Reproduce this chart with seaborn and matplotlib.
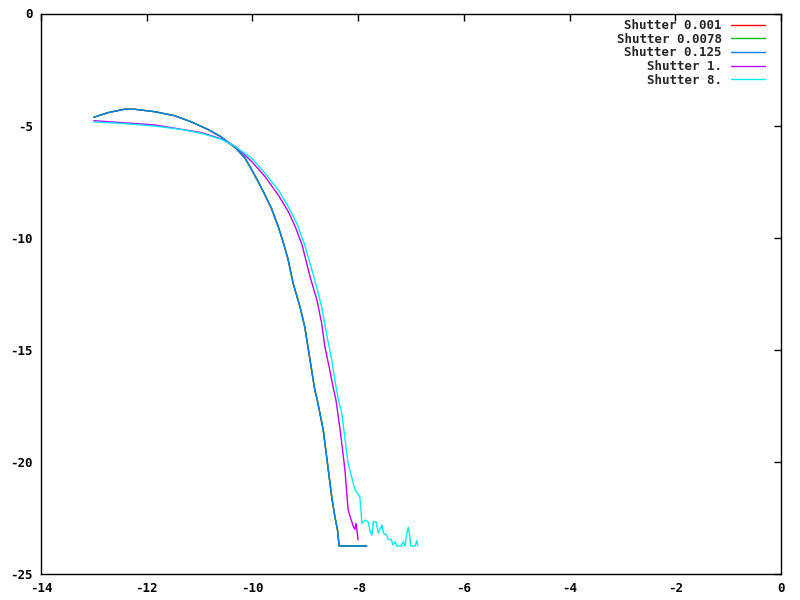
import numpy as np
import pandas as pd
import matplotlib
matplotlib.use("Agg")
import matplotlib.pyplot as plt
import seaborn as sns

# ---- data ----
labels = ["Shutter 0.001", "Shutter 0.0078", "Shutter 0.125", "Shutter 1.", "Shutter 8."]
colors = ["#ff0000", "#00c000", "#0080ff", "#c000ff", "#00eeee"]

fast_x = [-13.00, -12.73, -12.42, -12.23, -11.85, -11.47, -11.16, -10.84, -10.59, -10.31,
          -10.14, -10.01, -9.89, -9.76, -9.64, -9.51, -9.42, -9.33, -9.23, -9.10,
          -9.01, -8.94, -8.88, -8.82, -8.78, -8.66, -8.50, -8.44, -8.39, -8.36, -7.84]
red_y = [-4.63, -4.42, -4.27, -4.27, -4.38, -4.56, -4.83, -5.18, -5.51, -6.02,
         -6.46, -6.99, -7.51, -8.11, -8.70, -9.52, -10.19, -10.93, -12.04, -13.09,
         -13.98, -15.02, -15.91, -16.80, -17.17, -18.59, -21.56, -22.45, -23.05, -23.75, -23.75]
green_y = [-4.63, -4.42, -4.27, -4.27, -4.38, -4.56, -4.83, -5.17, -5.50, -6.01,
           -6.45, -6.98, -7.50, -8.10, -8.69, -9.51, -10.18, -10.92, -12.03, -13.08,
           -13.97, -15.01, -15.90, -16.79, -17.16, -18.58, -21.55, -22.44, -23.04, -23.75, -23.75]
blue_y = [-4.63, -4.42, -4.27, -4.27, -4.38, -4.56, -4.83, -5.17, -5.50, -6.01,
          -6.45, -6.98, -7.50, -8.10, -8.69, -9.51, -10.18, -10.92, -12.03, -13.08,
          -13.97, -15.01, -15.90, -16.79, -17.16, -18.58, -21.55, -22.44, -23.04, -23.75, -23.75]

purple_x = [-13.00, -11.85, -10.97, -10.59, -10.31, -10.01, -9.76, -9.51, -9.32, -9.19,
            -9.06, -8.91, -8.78, -8.69, -8.63, -8.55, -8.47, -8.42, -8.34, -8.25,
            -8.22, -8.19, -8.12, -8.09, -8.06, -8.04, -8.02, -8.00]
purple_y = [-4.78, -4.97, -5.31, -5.59, -5.95, -6.61, -7.28, -8.10, -8.84, -9.51,
            -10.33, -11.74, -12.78, -13.82, -14.86, -15.75, -16.70, -17.24, -18.58, -20.36,
            -21.25, -22.14, -22.67, -22.89, -23.01, -22.74, -23.11, -23.48]

cyan_x = [-13.00, -12.49, -11.85, -11.35, -10.97, -10.59, -10.34, -10.01, -9.76, -9.51,
          -9.32, -9.16, -9.01, -8.82, -8.69, -8.60, -8.50, -8.44, -8.38, -8.31,
          -8.19, -8.06, -7.97, -7.95, -7.93, -7.87, -7.81, -7.78, -7.74, -7.71,
          -7.66, -7.62, -7.55, -7.52, -7.46, -7.43, -7.37, -7.34, -7.30, -7.27,
          -7.18, -7.15, -7.11, -7.08, -7.05, -7.02, -7.01, -6.92, -6.89, -6.87]
cyan_y = [-4.84, -4.90, -5.02, -5.17, -5.34, -5.61, -5.91, -6.46, -7.13, -7.87,
          -8.62, -9.36, -10.33, -11.89, -13.08, -14.26, -15.45, -16.35, -17.16, -17.83,
          -20.06, -21.25, -21.55, -22.00, -22.74, -22.59, -22.67, -23.04, -23.26, -22.67,
          -22.67, -23.18, -22.81, -23.18, -23.26, -23.45, -23.48, -23.71, -23.56, -23.75,
          -23.75, -23.56, -23.75, -23.18, -22.92, -23.34, -23.75, -23.75, -23.51, -23.75]

xticks = [-14, -12, -10, -8, -6, -4, -2, 0]
yticks = [0, -5, -10, -15, -20, -25]

series = [(fast_x, red_y), (fast_x, green_y), (fast_x, blue_y), (purple_x, purple_y), (cyan_x, cyan_y)]
frames = []
for lab, (xs, ys) in zip(labels, series):
    frames.append(pd.DataFrame({"x": xs, "y": ys, "series": lab, "order": np.arange(len(xs))}))
df = pd.concat(frames, ignore_index=True)

sns.set_style("white")
plt.rcParams["font.family"] = ["DejaVu Sans Mono"]
plt.rcParams["font.weight"] = "bold"

fig = plt.figure(figsize=(8, 6), dpi=100)
ax = fig.add_axes([41 / 800, 1 - 574 / 600, 740 / 800, (574 - 13.5) / 600])

sns.lineplot(data=df, x="x", y="y", hue="series", hue_order=labels,
             palette=dict(zip(labels, colors)), sort=False, estimator=None,
             units="series", linewidth=1, ax=ax)

ax.set_xlim(-14, 0)
ax.set_ylim(-25, 0)
ax.set_xticks(xticks)
ax.set_yticks(yticks)
ax.set_xticklabels([str(t) for t in xticks])
ax.set_yticklabels([str(t) for t in yticks])
ax.set_xlabel("")
ax.set_ylabel("")
ax.tick_params(direction="in", length=5, width=1, top=True, right=True,
               labelsize=9, colors="black", pad=6)
for s in ax.spines.values():
    s.set_visible(True)
    s.set_color("black")
    s.set_linewidth(1)

handles, labs = ax.get_legend_handles_labels()
leg = ax.legend(handles, labs, loc="upper right", frameon=False, markerfirst=False,
                bbox_to_anchor=(765 / 800, 1 - 19 / 600), bbox_transform=fig.transFigure,
                borderpad=0, borderaxespad=0, labelspacing=0.05, handlelength=2.75,
                handletextpad=0.7, prop={"family": "DejaVu Sans Mono", "weight": "bold", "size": 9})
for line in leg.get_lines():
    line.set_linewidth(1)

fig.savefig("out.png", dpi=100)
